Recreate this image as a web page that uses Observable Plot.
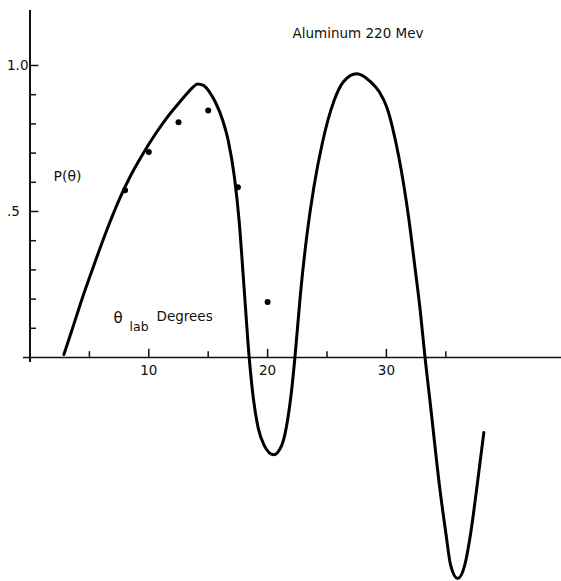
<!DOCTYPE html>
<html>
<head>
<meta charset="utf-8">
<script src="https://cdn.jsdelivr.net/npm/d3@7"></script>
<script src="https://cdn.jsdelivr.net/npm/@observablehq/plot@0.6"></script>
<style>
  html, body { margin: 0; padding: 0; background: #fff; }
  #chart svg { display: block; }
</style>
</head>
<body>
<div id="chart"></div>
<script>
// Theoretical polarization curve P(θ) vs laboratory angle (degrees)
const curveTheta = [2.85, 3.5, 4.5, 5.5, 6.5, 7.5, 8.5, 9.5, 10.5, 11.5, 12.5, 13.2, 13.7, 14.1, 14.6, 15.1, 15.6, 16.2, 16.7, 17.2, 17.6, 18.0, 18.45,
  18.8, 19.2, 19.7, 20.5, 21.2, 21.7, 22.0, 22.3,
  22.77, 23.33, 23.9, 24.6, 25.6, 26.4, 27.5, 28.65, 29.4, 30.05, 30.5, 31.03, 31.9, 32.4, 32.85, 33.25,
  33.7, 34.5, 35.0, 35.4, 36.0, 36.6, 37.1, 37.6, 38.2];
const curveP = [0.01, 0.09, 0.215, 0.33, 0.44, 0.54, 0.625, 0.697, 0.762, 0.82, 0.87, 0.903, 0.925, 0.937, 0.932, 0.91, 0.875, 0.815, 0.74, 0.62, 0.47, 0.25, 0.0,
  -0.14, -0.24, -0.30, -0.333, -0.30, -0.21, -0.12, 0.0,
  0.22, 0.426, 0.585, 0.733, 0.88, 0.945, 0.972, 0.945, 0.91, 0.855, 0.79, 0.69, 0.471, 0.31, 0.16, 0.0,
  -0.16, -0.45, -0.60, -0.71, -0.757, -0.71, -0.6, -0.45, -0.257];

// Measured points
const measTheta = [8, 10, 12.5, 15, 17.5, 20];
const measP = [0.573, 0.704, 0.806, 0.846, 0.583, 0.19];

// Axis ticks and labels
const xTicks = [5, 10, 15, 20, 25, 30, 35];
const xTickLabels = ["10", "20", "30"];
const xTickLabelValues = [10, 20, 30];
const yTicks = [0.1, 0.2, 0.3, 0.4, 0.5, 0.6, 0.7, 0.8, 0.9, 1.0];
const yTickLabels = [".5", "1.0"];
const yTickLabelValues = [0.5, 1.0];

const title = "Aluminum 220 Mev";
const yLabel = "P(θ)";

const curve = curveTheta.map((t, i) => ({theta: t, p: curveP[i]}));
const points = measTheta.map((t, i) => ({theta: t, p: measP[i]}));
const yTickData = yTicks.map(v => ({v, major: Math.abs(v - 0.5) < 1e-9 || Math.abs(v - 1) < 1e-9}));
const xTickData = xTicks.map(v => ({v, major: v % 10 === 0}));

const font = "'DejaVu Sans', sans-serif";

const chart = Plot.plot({
  width: 561,
  height: 581,
  marginTop: 0, marginRight: 0, marginBottom: 0, marginLeft: 0,
  style: {background: "#fff", fontFamily: font, overflow: "visible"},
  x: {domain: [0, 45], range: [29.5, 564.1], axis: null},
  y: {domain: [-0.8, 1.2], range: [590.6, 6.6], axis: null},
  marks: [
    // axes
    Plot.ruleY([0], {x1: -0.55, x2: 45, stroke: "#111", strokeWidth: 1.6}),
    Plot.ruleX([0], {y1: -0.017, y2: 1.188, stroke: "#111", strokeWidth: 2}),
    // y ticks, pointing into the plot
    Plot.ruleY(yTickData, {y: "v", x1: 0, x2: d => d.major ? 0.75 : 0.55, stroke: "#111", strokeWidth: 1.5}),
    // x ticks, pointing up
    Plot.ruleX(xTickData, {x: "v", y1: 0, y2: d => d.major ? 0.028 : 0.02, stroke: "#111", strokeWidth: 1.5}),
    // tick labels
    Plot.text(xTickLabelValues, {x: d => d, y: 0, text: (d, i) => xTickLabels[i], dy: 13, fontSize: 13.5, fill: "#111", style: "letter-spacing: 0.8px"}),
    Plot.text(yTickLabelValues, {x: 0, y: d => d, text: (d, i) => yTickLabels[i], dx: -23, textAnchor: "start", fontSize: 13.5, fill: "#111"}),
    // theory curve
    Plot.line(curve, {x: "theta", y: "p", curve: "monotone-x", stroke: "#000", strokeWidth: 3}),
    // measured points
    Plot.dot(points, {x: "theta", y: "p", r: 3, fill: "#000", stroke: "none"}),
    // annotations
    Plot.text([title], {frameAnchor: "top-left", lineAnchor: "middle", dx: 292, dy: 33, textAnchor: "start", fontSize: 13.5, fill: "#111", style: "letter-spacing: 1.6px"}),
    Plot.text([yLabel], {frameAnchor: "top-left", lineAnchor: "middle", dx: 53, dy: 176, textAnchor: "start", fontSize: 14, fill: "#111", style: "letter-spacing: 1px"}),
    Plot.text(["θ"], {frameAnchor: "top-left", lineAnchor: "middle", dx: 113, dy: 318, textAnchor: "start", fontSize: 15, fill: "#111"}),
    Plot.text(["lab"], {frameAnchor: "top-left", lineAnchor: "middle", dx: 129, dy: 326, textAnchor: "start", fontSize: 12.5, fill: "#111"}),
    Plot.text(["Degrees"], {frameAnchor: "top-left", lineAnchor: "middle", dx: 156, dy: 316, textAnchor: "start", fontSize: 13.5, fill: "#111", style: "letter-spacing: 0.5px"})
  ]
});

document.getElementById("chart").appendChild(chart);
</script>
</body>
</html>
